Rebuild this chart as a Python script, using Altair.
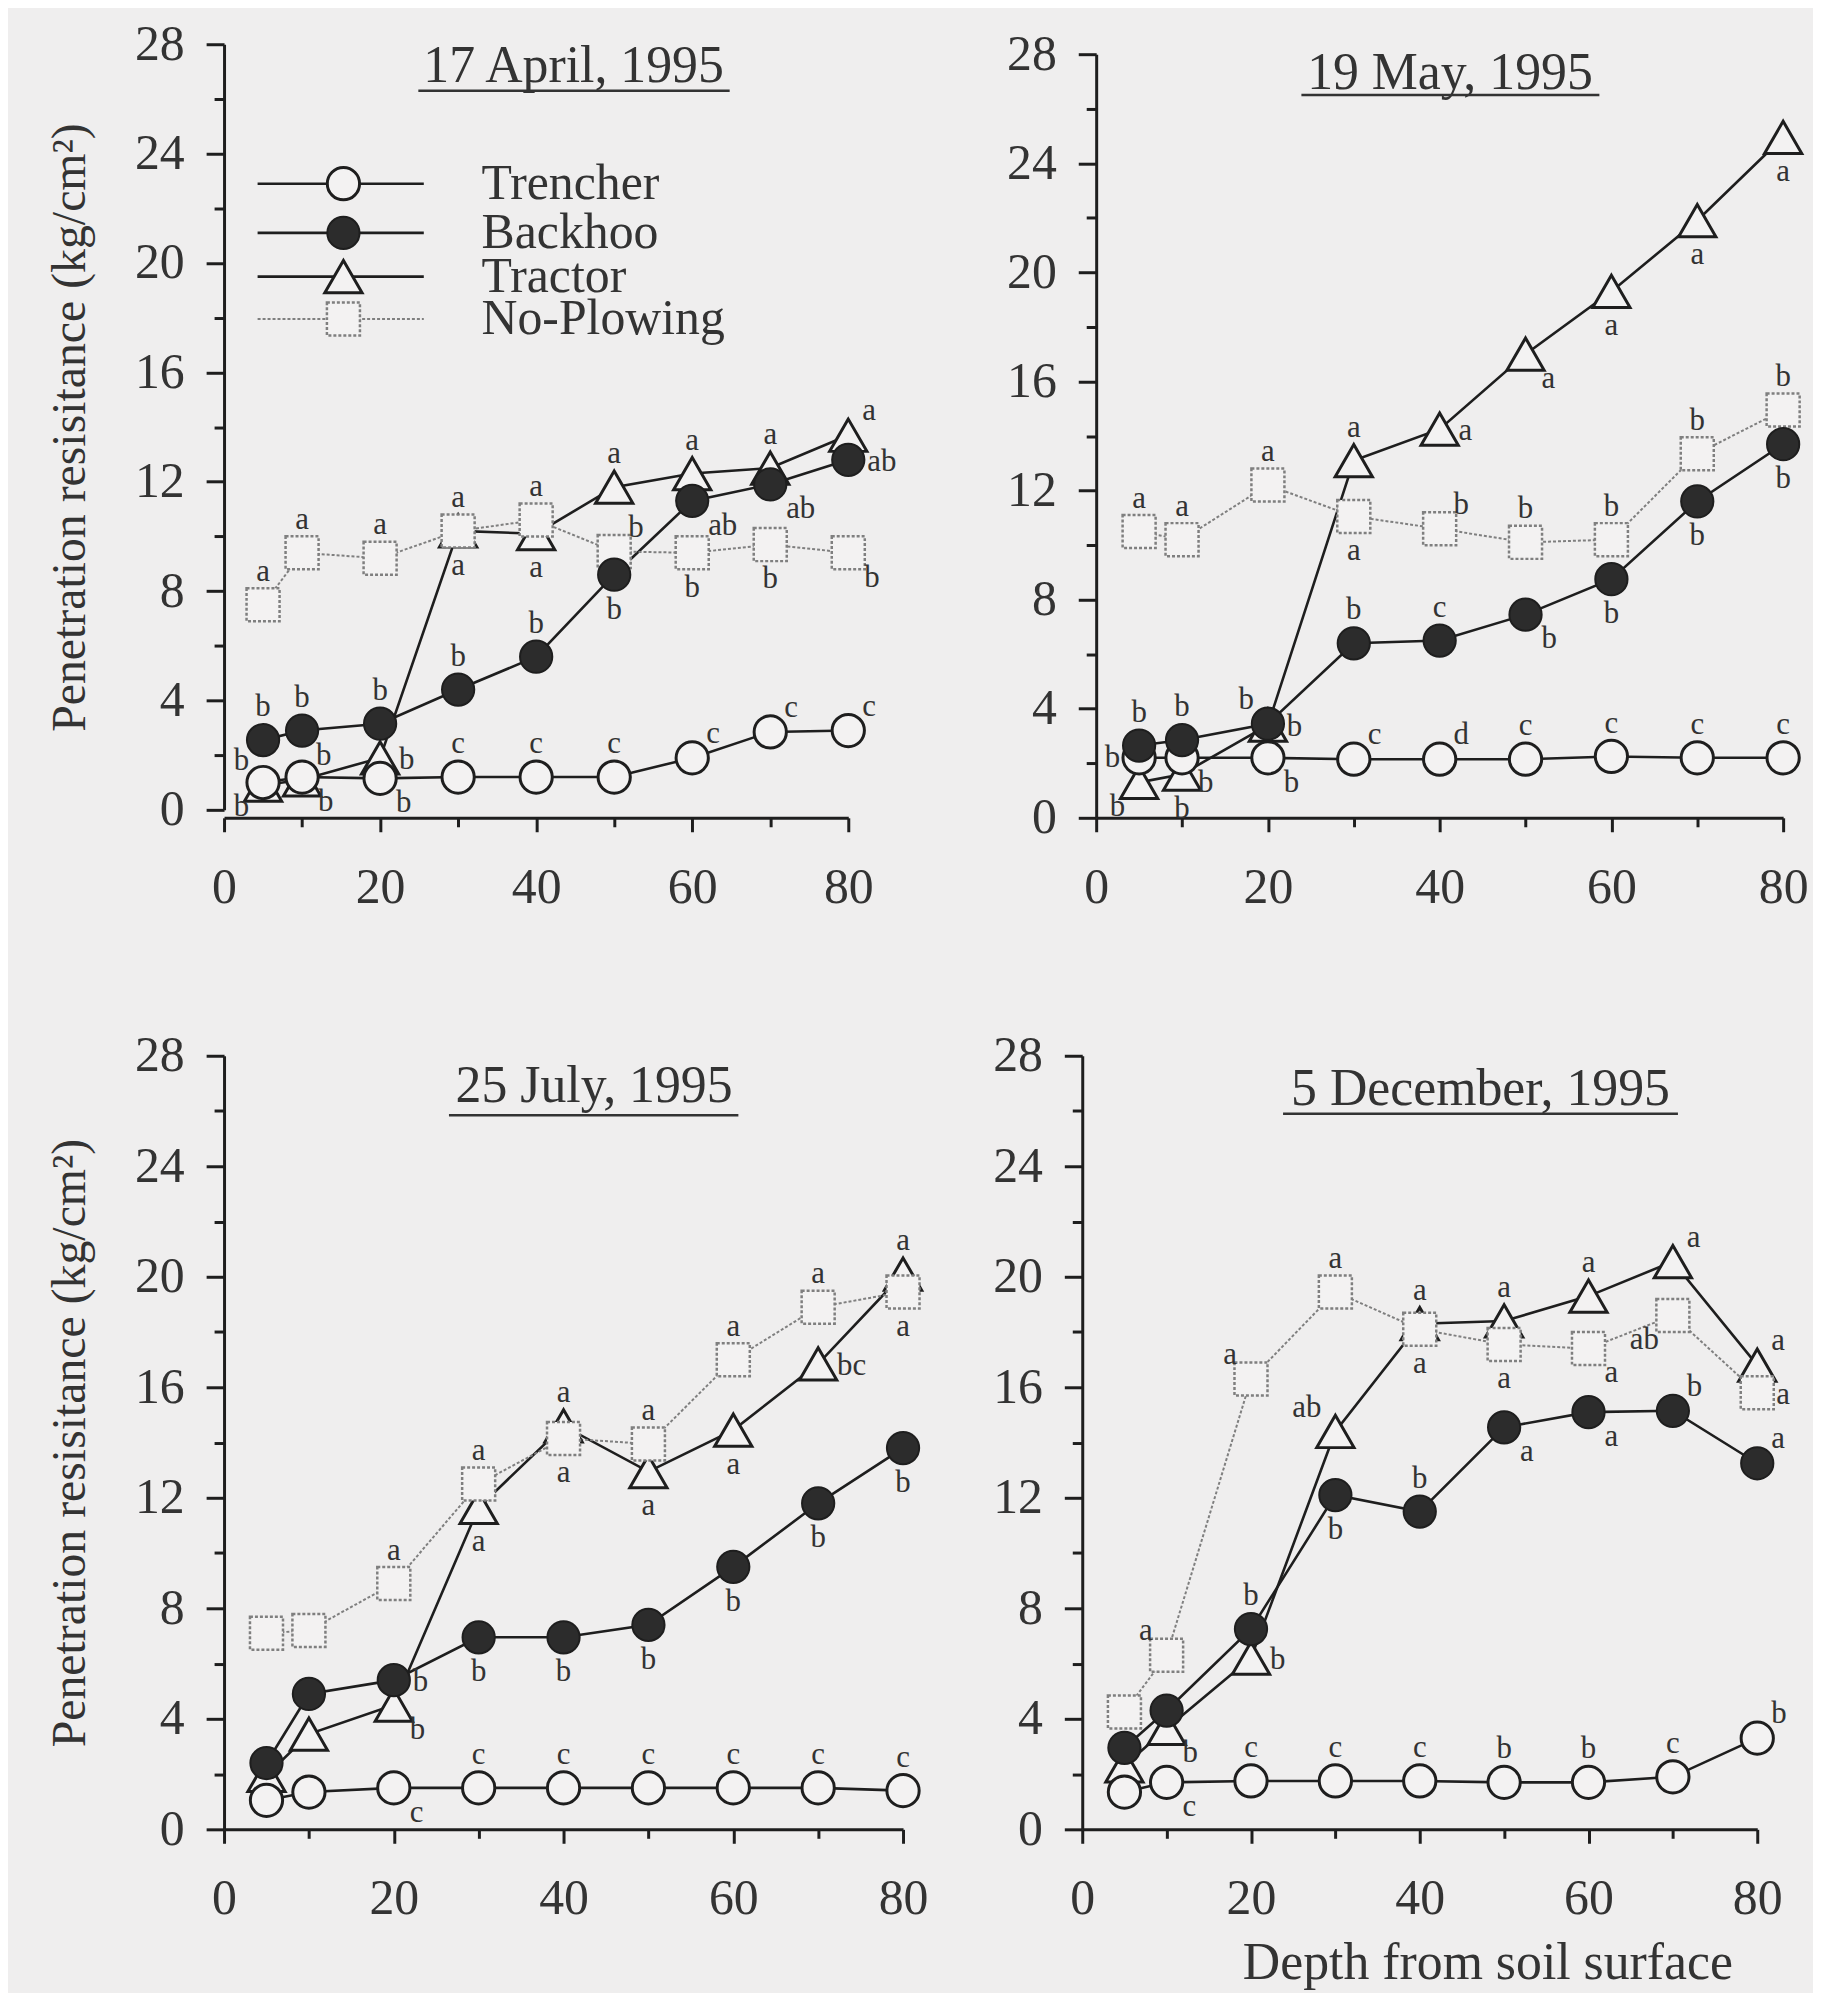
import altair as alt
import pandas as pd

# ---------------- data ----------------
DEPTH = [5, 10, 20, 30, 40, 50, 60, 70, 80]
SERIES = ["Trencher", "Backhoo", "Tractor", "No-Plowing"]
DATES = ["17 April, 1995", "19 May, 1995", "25 July, 1995", "5 December, 1995"]

# 17 April, 1995
APR_TRENCHER = [1.0, 1.2, 1.15, 1.2, 1.2, 1.2, 1.9, 2.85, 2.9]
APR_BACKHOO = [2.55, 2.9, 3.15, 4.4, 5.6, 8.6, 11.3, 11.9, 12.8]
APR_TRACTOR = [0.9, 1.1, 1.9, 10.2, 10.1, 11.8, 12.3, 12.5, 13.7]
APR_NOPLOW = [7.5, 9.4, 9.2, 10.2, 10.6, 9.45, 9.4, 9.7, 9.4]
APR_TRENCHER_LET = ["b", "b", "b", "c", "c", "c", "c", "c", "c"]
APR_BACKHOO_LET = ["b", "b", "b", "b", "b", "b", "ab", "ab", "ab"]
APR_TRACTOR_LET = ["b", "b", "b", "a", "a", "a", "a", "a", "a"]
APR_NOPLOW_LET = ["a", "a", "a", "a", "a", "b", "b", "b", "b"]

# 19 May, 1995
MAY_TRENCHER = [2.2, 2.2, 2.2, 2.15, 2.15, 2.15, 2.25, 2.2, 2.2]
MAY_BACKHOO = [2.65, 2.85, 3.45, 6.4, 6.5, 7.45, 8.75, 11.6, 13.7]
MAY_TRACTOR = [1.3, 1.6, 3.4, 13.1, 14.25, 17.0, 19.3, 21.9, 24.95]
MAY_NOPLOW = [10.5, 10.2, 12.2, 11.05, 10.6, 10.1, 10.2, 13.35, 14.95]
MAY_TRENCHER_LET = ["b", "b", "b", "c", "d", "c", "c", "c", "c"]
MAY_BACKHOO_LET = ["b", "b", "b", "b", "c", "b", "b", "b", "b"]
MAY_TRACTOR_LET = ["b", "b", "b", "a", "a", "a", "a", "a", "a"]
MAY_NOPLOW_LET = ["a", "a", "a", "a", "b", "b", "b", "b", "b"]

# 25 July, 1995
JUL_TRENCHER = [1.05, 1.35, 1.5, 1.5, 1.5, 1.5, 1.5, 1.5, 1.4]
JUL_BACKHOO = [2.4, 4.9, 5.4, 6.95, 6.95, 7.4, 9.5, 11.8, 13.8]
JUL_TRACTOR = [1.95, 3.45, 4.5, 11.65, 14.6, 12.95, 14.45, 16.85, 20.1]
JUL_NOPLOW = [7.1, 7.2, 8.9, 12.5, 14.15, 13.95, 17.0, 18.9, 19.45]
JUL_TRENCHER_LET = ["", "", "c", "c", "c", "c", "c", "c", "c"]
JUL_BACKHOO_LET = ["", "", "b", "b", "b", "b", "b", "b", "b"]
JUL_TRACTOR_LET = ["", "", "b", "a", "a", "a", "a", "bc", "a"]
JUL_NOPLOW_LET = ["", "", "a", "a", "a", "a", "a", "a", "a"]

# 5 December, 1995
DEC_TRENCHER = [1.35, 1.7, 1.75, 1.75, 1.75, 1.7, 1.7, 1.9, 3.3]
DEC_BACKHOO = [2.95, 4.3, 7.25, 12.1, 11.5, 14.55, 15.1, 15.15, 13.25]
DEC_TRACTOR = [2.3, 3.65, 6.2, 14.4, 18.3, 18.4, 19.3, 20.55, 16.8]
DEC_NOPLOW = [4.25, 6.3, 16.3, 19.45, 18.1, 17.55, 17.4, 18.6, 15.8]
DEC_TRENCHER_LET = ["", "c", "c", "c", "c", "b", "b", "c", "b"]
DEC_BACKHOO_LET = ["", "", "b", "b", "b", "a", "a", "b", "a"]
DEC_TRACTOR_LET = ["", "b", "b", "ab", "a", "a", "a", "a", "a"]
DEC_NOPLOW_LET = ["", "a", "a", "a", "a", "a", "a", "ab", "a"]

# ---------------- annotation placement (layout, not data) ----------------
APR_POS = {
    "Trencher": ["bl", "br", "br", "a", "a", "a", "ur", "ur", "ur"],
    "Backhoo": ["a", "a", "a", "a", "a", "b", "br", "br", "r"],
    "Tractor": ["ul", "ur", "r", "b", "b", "a", "a", "a", "ur"],
    "No-Plowing": ["a", "a", "a", "a", "a", "ur", "b", "b", "br"],
}
MAY_POS = {
    "Trencher": ["l", "br", "br", "ur", "ur", "a", "a", "a", "a"],
    "Backhoo": ["a", "a", "ul", "a", "a", "br", "b", "b", "b"],
    "Tractor": ["bl", "b", "r", "a", "r", "br", "b", "b", "b"],
    "No-Plowing": ["a", "a", "a", "b", "ur", "a", "a", "a", "a"],
}
JUL_POS = {
    "Trencher": ["a", "a", "br", "a", "a", "a", "a", "a", "a"],
    "Backhoo": ["a", "a", "r", "b", "b", "b", "b", "b", "b"],
    "Tractor": ["a", "a", "br", "b", "a", "b", "b", "r", "a"],
    "No-Plowing": ["a", "a", "a", "a", "b", "a", "a", "a", "b"],
}
DEC_POS = {
    "Trencher": ["a", "br", "a", "a", "a", "a", "a", "a", "ur"],
    "Backhoo": ["a", "a", "a", "b", "a", "br", "br", "ur", "ur"],
    "Tractor": ["a", "br", "r", "ul", "a", "a", "a", "ur", "ur"],
    "No-Plowing": ["a", "ul", "ul", "a", "b", "b", "br", "bl", "r"],
}

OFFS = {
    "a": (0, -33, "center"), "b": (0, 35, "center"),
    "r": (19, 2, "left"), "l": (-19, 0, "right"),
    "ur": (14, -24, "left"), "ul": (-14, -24, "right"),
    "br": (16, 25, "left"), "bl": (-14, 25, "right"),
}

FONT = "Liberation Serif"
BG = "#efeeee"
FILL = "#f3f2f2"
INK = "#1e1e1e"
TXT = "#333333"
GREY = "#7f7f7f"

YTITLE = "Penetration resisitance (kg/cm\u00b2)"
XTITLE = "Depth from soil surface"

# per panel layout: width, height, y-range, title pos, underline
PANELS = [
    dict(vals=[APR_TRENCHER, APR_BACKHOO, APR_TRACTOR, APR_NOPLOW],
         lets=[APR_TRENCHER_LET, APR_BACKHOO_LET, APR_TRACTOR_LET, APR_NOPLOW_LET],
         pos=APR_POS, w=627, h=777, yr=[769, 0], tx=44.8, ty=27.2, ux=(24.9, 64.8), uy=26.3,
         ytitle=True, xtitle=False, legend=True),
    dict(vals=[MAY_TRENCHER, MAY_BACKHOO, MAY_TRACTOR, MAY_NOPLOW],
         lets=[MAY_TRENCHER_LET, MAY_BACKHOO_LET, MAY_TRACTOR_LET, MAY_NOPLOW_LET],
         pos=MAY_POS, w=690, h=777, yr=[777, 10], tx=41.2, ty=27.3, ux=(23.9, 58.6), uy=26.5,
         ytitle=False, xtitle=False, legend=False),
    dict(vals=[JUL_TRENCHER, JUL_BACKHOO, JUL_TRACTOR, JUL_NOPLOW],
         lets=[JUL_TRENCHER_LET, JUL_BACKHOO_LET, JUL_TRACTOR_LET, JUL_NOPLOW_LET],
         pos=JUL_POS, w=682, h=777, yr=[777, 0], tx=43.6, ty=26.9, ux=(26.5, 60.6), uy=25.85,
         ytitle=True, xtitle=False, legend=False),
    dict(vals=[DEC_TRENCHER, DEC_BACKHOO, DEC_TRACTOR, DEC_NOPLOW],
         lets=[DEC_TRENCHER_LET, DEC_BACKHOO_LET, DEC_TRACTOR_LET, DEC_NOPLOW_LET],
         pos=DEC_POS, w=678, h=777, yr=[777, 0], tx=47.2, ty=26.8, ux=(23.8, 70.6), uy=25.9,
         ytitle=False, xtitle=True, legend=False),
]

LEG_Y = [22.9, 21.1, 19.5, 17.95]
LEG_LINE = (4.3, 25.6)
LEG_MARK = 15.3
LEG_TEXT = 33.0


def make_axes(p):
    xkw = dict(values=list(range(0, 81, 10)),
               labelExpr="datum.value % 20 == 0 ? datum.label : ''",
               tickSize={"condition": {"test": "datum.value % 20 == 0", "value": 14}, "value": 9},
               tickWidth=3, tickColor=INK, domainColor=INK, domainWidth=3,
               labelFont=FONT, labelFontSize=50, labelColor=TXT, labelPadding=31,
               labelOverlap=False, labelFlush=False, grid=False)
    if p["xtitle"]:
        xkw.update(title=XTITLE, titleFont=FONT, titleFontSize=52, titleFontWeight="normal",
                   titleColor=TXT, titleX=407, titleY=150, titleAlign="center",
                   titleBaseline="alphabetic", titleAnchor="start")
    else:
        xkw.update(title=None)
    ykw = dict(values=list(range(0, 29, 2)),
               labelExpr="datum.value % 4 == 0 ? datum.label : ''",
               tickSize={"condition": {"test": "datum.value % 4 == 0", "value": 18}, "value": 10},
               tickWidth=3, tickColor=INK, domainColor=INK, domainWidth=3,
               labelFont=FONT, labelFontSize=50, labelColor=TXT, labelPadding=22,
               labelOverlap=False, labelFlush=False, grid=False)
    if p["ytitle"]:
        ykw.update(title=YTITLE, titleFont=FONT, titleFontSize=48, titleFontWeight="normal",
                   titleColor=TXT, titlePadding=40)
    else:
        ykw.update(title=None)
    xs = alt.Scale(domain=[0, 80], nice=False, zero=False)
    ys = alt.Scale(domain=[0, 28], nice=False, zero=False, range=p["yr"])
    return (lambda: alt.X("x:Q", scale=xs, axis=alt.Axis(**xkw)),
            lambda: alt.Y("y:Q", scale=ys, axis=alt.Axis(**ykw)))


def panel(p, date):
    rows = []
    for s, vals, lets in zip(SERIES, p["vals"], p["lets"]):
        for d, v, l, ps in zip(DEPTH, vals, lets, p["pos"][s]):
            rows.append(dict(x=d, y=v, series=s, let=l, pos=ps))
    df = pd.DataFrame(rows)
    X, Y = make_axes(p)
    base = alt.Chart(df).encode(x=X(), y=Y())

    layers = []
    # lines
    for s in SERIES:
        if s == "No-Plowing":
            m = base.mark_line(color=GREY, strokeWidth=2, strokeDash=[3, 2])
        else:
            m = base.mark_line(color=INK, strokeWidth=2.6)
        layers.append(m.transform_filter(alt.datum.series == s))
    # markers
    layers.append(base.mark_point(shape="triangle-up", filled=True, fill=FILL, stroke=INK,
                                  strokeWidth=3, size=1400, opacity=1)
                  .transform_filter(alt.datum.series == "Tractor"))
    layers.append(base.mark_point(shape="square", filled=True, fill=FILL, stroke=GREY,
                                  strokeWidth=2.5, strokeDash=[3, 2], size=1100, opacity=1)
                  .transform_filter(alt.datum.series == "No-Plowing"))
    layers.append(base.mark_point(shape="circle", filled=True, fill=FILL, stroke=INK,
                                  strokeWidth=3, size=1050, opacity=1)
                  .transform_filter(alt.datum.series == "Trencher"))
    layers.append(base.mark_point(shape="circle", filled=True, fill="#2c2c2c", stroke=INK,
                                  strokeWidth=2, size=1050, opacity=1)
                  .transform_filter(alt.datum.series == "Backhoo"))
    # significance letters
    for code, (dx, dy, al) in OFFS.items():
        layers.append(base.mark_text(dx=dx, dy=dy, align=al, baseline="middle", font=FONT,
                                     fontSize=31, color=TXT)
                      .encode(text="let:N")
                      .transform_filter((alt.datum.pos == code) & (alt.datum.let != "")))
    # date title + underline
    tdf = pd.DataFrame([dict(x=p["tx"], y=p["ty"], t=date)])
    layers.append(alt.Chart(tdf).mark_text(font=FONT, fontSize=52, color=TXT, baseline="middle",
                                           align="center")
                  .encode(x=X(), y=Y(), text="t:N"))
    udf = pd.DataFrame([dict(x=p["ux"][0], x2=p["ux"][1], y=p["uy"])])
    layers.append(alt.Chart(udf).mark_rule(color=TXT, strokeWidth=2.5)
                  .encode(x=X(), x2=alt.X2("x2:Q"), y=Y()))
    # legend
    if p["legend"]:
        ldf = pd.DataFrame([dict(series=s, y=yy, x=LEG_LINE[0], x2=LEG_LINE[1], xm=LEG_MARK, xt=LEG_TEXT)
                            for s, yy in zip(SERIES, LEG_Y)])
        lb = alt.Chart(ldf)
        for s in SERIES:
            if s == "No-Plowing":
                r = lb.mark_rule(color=GREY, strokeWidth=2, strokeDash=[3, 2])
            else:
                r = lb.mark_rule(color=INK, strokeWidth=2.6)
            layers.append(r.encode(x=X(), x2=alt.X2("x2:Q"), y=Y())
                          .transform_filter(alt.datum.series == s))
        mk = {
            "Trencher": dict(shape="circle", fill=FILL, stroke=INK, strokeWidth=3, size=1050),
            "Backhoo": dict(shape="circle", fill="#2c2c2c", stroke=INK, strokeWidth=2, size=1050),
            "Tractor": dict(shape="triangle-up", fill=FILL, stroke=INK, strokeWidth=3, size=1400),
            "No-Plowing": dict(shape="square", fill=FILL, stroke=GREY, strokeWidth=2.5,
                               strokeDash=[3, 2], size=1100),
        }
        for s in SERIES:
            layers.append(lb.mark_point(filled=True, opacity=1, **mk[s])
                          .encode(x=alt.X("xm:Q", scale=alt.Scale(domain=[0, 80], nice=False)),
                                  y=Y())
                          .transform_filter(alt.datum.series == s))
        layers.append(lb.mark_text(font=FONT, fontSize=50, color=TXT, align="left",
                                   baseline="middle")
                      .encode(x=alt.X("xt:Q", scale=alt.Scale(domain=[0, 80], nice=False)),
                              y=Y(), text="series:N"))
    return alt.layer(*layers).properties(width=p["w"], height=p["h"])


charts = [panel(p, d) for p, d in zip(PANELS, DATES)]
row1 = alt.hconcat(charts[0], charts[1], spacing=249, bounds="flush")
row2 = alt.hconcat(charts[2], charts[3], spacing=180, bounds="flush")
chart = (alt.vconcat(row1, row2, spacing=119)
         .properties(background=BG, padding={"left": 39, "top": 7, "right": 5, "bottom": 0})
         .configure_view(stroke=None))

chart.save("out.html", embed_options={"renderer": "svg", "actions": False})
